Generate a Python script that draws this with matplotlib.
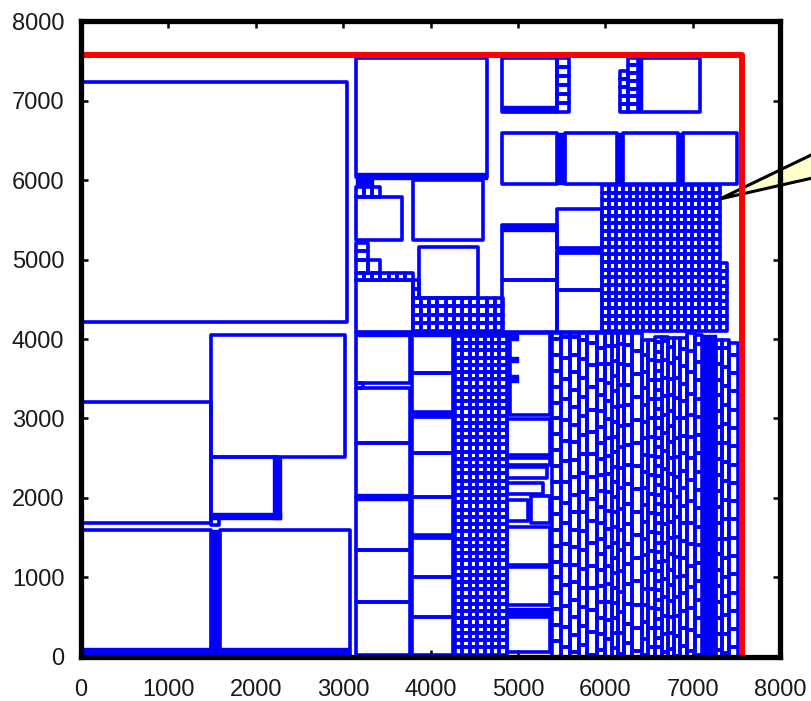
import matplotlib
matplotlib.use('Agg')
import matplotlib.pyplot as plt
from matplotlib.patches import Rectangle, Polygon
from matplotlib.collections import PatchCollection

# ---------------- data (layout units) ----------------
TICKS = [0, 1000, 2000, 3000, 4000, 5000, 6000, 7000, 8000]
TICK_LABELS = ["0", "1000", "2000", "3000", "4000", "5000", "6000", "7000", "8000"]

DIE_W = 7560
DIE_H = 7575

# outlined macro blocks (x0, y0, x1, y1)
OUTLINE_BLOCKS = [
    (0, 4214, 3043, 7233), (0, 1690, 1490, 3208), (1490, 2516, 3020, 4050),
    (1490, 1760, 2250, 2516), (1490, 1660, 1580, 1750), (0, 0, 1490, 1598),
    (1590, 0, 3078, 1598),
    (3146, 3447, 3764, 4075), (3146, 3384, 3230, 3447), (3146, 2692, 3764, 3384),
    (3146, 2013, 3764, 2692), (3146, 1346, 3764, 2013), (3146, 692, 3764, 1346),
    (3146, 30, 3764, 692),
    (3787, 3572, 4256, 4075), (3787, 3082, 4256, 3572), (3787, 2566, 4256, 3019),
    (3787, 2013, 4256, 2566), (3787, 1535, 4256, 2013), (3787, 1006, 4256, 1497),
    (3787, 503, 4256, 1006), (3787, 30, 4256, 503),
    (4910, 3044, 5366, 4075), (4874, 2541, 5366, 2994), (4874, 2415, 5366, 2503),
    (4874, 2252, 5332, 2390), (4874, 2050, 5286, 2189), (4874, 1711, 5114, 1975),
    (5149, 1686, 5366, 2030), (4874, 1157, 5366, 1635), (4874, 654, 5366, 1132),
    (4874, 63, 5366, 503),
    (3146, 6040, 4650, 7540), (3146, 5246, 3669, 5787), (3799, 5246, 4595, 6000),
    (3146, 4088, 3795, 4743), (3867, 4516, 4542, 5157),
    (4817, 4743, 5446, 5435), (4817, 4088, 5446, 4743),
    (5446, 5145, 5961, 5636), (5446, 4617, 5961, 5082), (5446, 4088, 5961, 4617),
    (4817, 6855, 5446, 7540), (6396, 6855, 7082, 7540),
    (4817, 5950, 5446, 6591), (5540, 5950, 6140, 6591), (6200, 5950, 6830, 6591),
    (6890, 5950, 7510, 6591),
]

# solid (filled) strips
FILLED_BLOCKS = [
    (2200, 1740, 2290, 2516), (1490, 1740, 2290, 1810), (1480, 0, 1590, 1598),
    (0, 0, 3078, 110), (3146, 1980, 3764, 2050), (3787, 3019, 4256, 3082),
    (3787, 1497, 4256, 1535), (3146, 4040, 4880, 4100), (4817, 6855, 5446, 6930),
    (5446, 5950, 5540, 6591), (6140, 5950, 6200, 6591), (6830, 5950, 6890, 6591),
    (3146, 6013, 4650, 6088), (3146, 5910, 3340, 6013), (4817, 5360, 5446, 5435),
    (5446, 5082, 5961, 5157), (4874, 528, 5366, 616), (6370, 6855, 6420, 7540),
    (4874, 3990, 5000, 4075), (4874, 3711, 5000, 3774), (4874, 3459, 5000, 3547),
]

# regular arrays of standard cells (x0, y0, x1, y1, columns, rows)
GRID_BLOCKS = [
    (4279, 30, 4874, 4040, 7, 44),
    (3799, 4100, 4828, 4516, 11, 4),
    (5961, 4100, 7311, 5937, 17, 19),
    (7311, 4100, 7391, 4956, 1, 9),
    (5446, 6855, 5584, 7540, 1, 6),
    (6167, 6855, 6259, 7371, 1, 5),
    (6259, 6855, 6370, 7540, 1, 7),
    (3146, 5787, 3420, 5910, 3, 1),
    (3146, 5000, 3280, 5208, 1, 2),
    (3146, 4831, 3420, 5000, 2, 1),
    (3146, 4743, 3800, 4831, 7, 1),
    (3799, 4516, 3867, 4743, 1, 2),
]

# columns of tall cells on the right side
COL_EDGES = [5389, 5492, 5595, 5698, 5789, 5904, 5995, 6076, 6144, 6213, 6304, 6419,
             6487, 6568, 6648, 6716, 6785, 6854, 6934, 7025, 7105, 7265, 7334, 7414, 7517]
COL_TOPS = [4075, 4075, 4075, 4075, 4075, 4075, 4075, 4075, 4075, 4075, 4075, 3990,
            3990, 4025, 4025, 4010, 4010, 4010, 4075, 4050, 4050, 3990, 3990, 3950]
COL_PITCH = [200, 260, 220, 240, 280, 200, 230, 190, 260, 250, 290, 210,
             240, 120, 230, 200, 250, 220, 270, 230, 0, 200, 240, 230]
COL_OFFSET = [0, 120, 60, 150, 30, 90, 0, 110, 40, 170, 80, 20,
              130, 0, 60, 100, 10, 140, 70, 30, 0, 90, 50, 120]

CALLOUT = [(7311, 5761), (8570, 6428), (8570, 6075)]

BLUE = '#0000FF'
RED = '#FF0000'

# ---------------- figure ----------------
fig = plt.figure(figsize=(8.12, 7.01), dpi=100)
ax = fig.add_axes([0.0998, 0.0628, 0.8608, 0.9072])
ax.set_xlim(0, 8000)
ax.set_ylim(0, 8000)

outline = []
filled = []
for x0, y0, x1, y1 in OUTLINE_BLOCKS:
    outline.append(Rectangle((x0, y0), x1 - x0, y1 - y0))
for x0, y0, x1, y1 in FILLED_BLOCKS:
    filled.append(Rectangle((x0, y0), x1 - x0, y1 - y0))
for x0, y0, x1, y1, nx, ny in GRID_BLOCKS:
    dx = (x1 - x0) / nx
    dy = (y1 - y0) / ny
    for i in range(nx):
        for j in range(ny):
            outline.append(Rectangle((x0 + i * dx, y0 + j * dy), dx, dy))
for k in range(len(COL_TOPS)):
    xa, xb = COL_EDGES[k], COL_EDGES[k + 1]
    top = COL_TOPS[k]
    p = COL_PITCH[k]
    if p == 0:
        filled.append(Rectangle((xa, 0), xb - xa, top))
        continue
    ys = [0]
    y = COL_OFFSET[k] if COL_OFFSET[k] > 0 else p
    while y < top - 40:
        ys.append(y)
        y += p
    ys.append(top)
    for a, b in zip(ys[:-1], ys[1:]):
        outline.append(Rectangle((xa, a), xb - xa, b - a))

ax.add_collection(PatchCollection(outline, facecolor='none', edgecolor=BLUE,
                                  linewidth=2.6, zorder=2))
ax.add_collection(PatchCollection(filled, facecolor=BLUE, edgecolor=BLUE,
                                  linewidth=1.0, zorder=2))

# callout pointer
ax.add_patch(Polygon(CALLOUT, closed=True, facecolor='#FFFFCC', edgecolor='black',
                     linewidth=2.2, zorder=3, clip_on=False))

# die outline
ax.plot([0, DIE_W, DIE_W], [DIE_H, DIE_H, 0], color=RED, linewidth=4.3,
        zorder=4, solid_capstyle='butt', clip_on=False)

ax.set_xticks(TICKS)
ax.set_yticks(TICKS)
ax.set_xticklabels(TICK_LABELS)
ax.set_yticklabels(TICK_LABELS)
for lab in ax.get_xticklabels() + ax.get_yticklabels():
    lab.set_family(['Liberation Sans', 'DejaVu Sans'])
    lab.set_fontstretch('condensed')
    lab.set_color('#1a1a1a')
ax.tick_params(direction='in', length=5, width=1.8, top=True, right=True,
               labelsize=17, color='black')
ax.tick_params(axis='x', pad=16)
ax.tick_params(axis='y', pad=12)
for s in ax.spines.values():
    s.set_linewidth(3.8)
    s.set_zorder(10)

fig.savefig('out.png', dpi=100)
